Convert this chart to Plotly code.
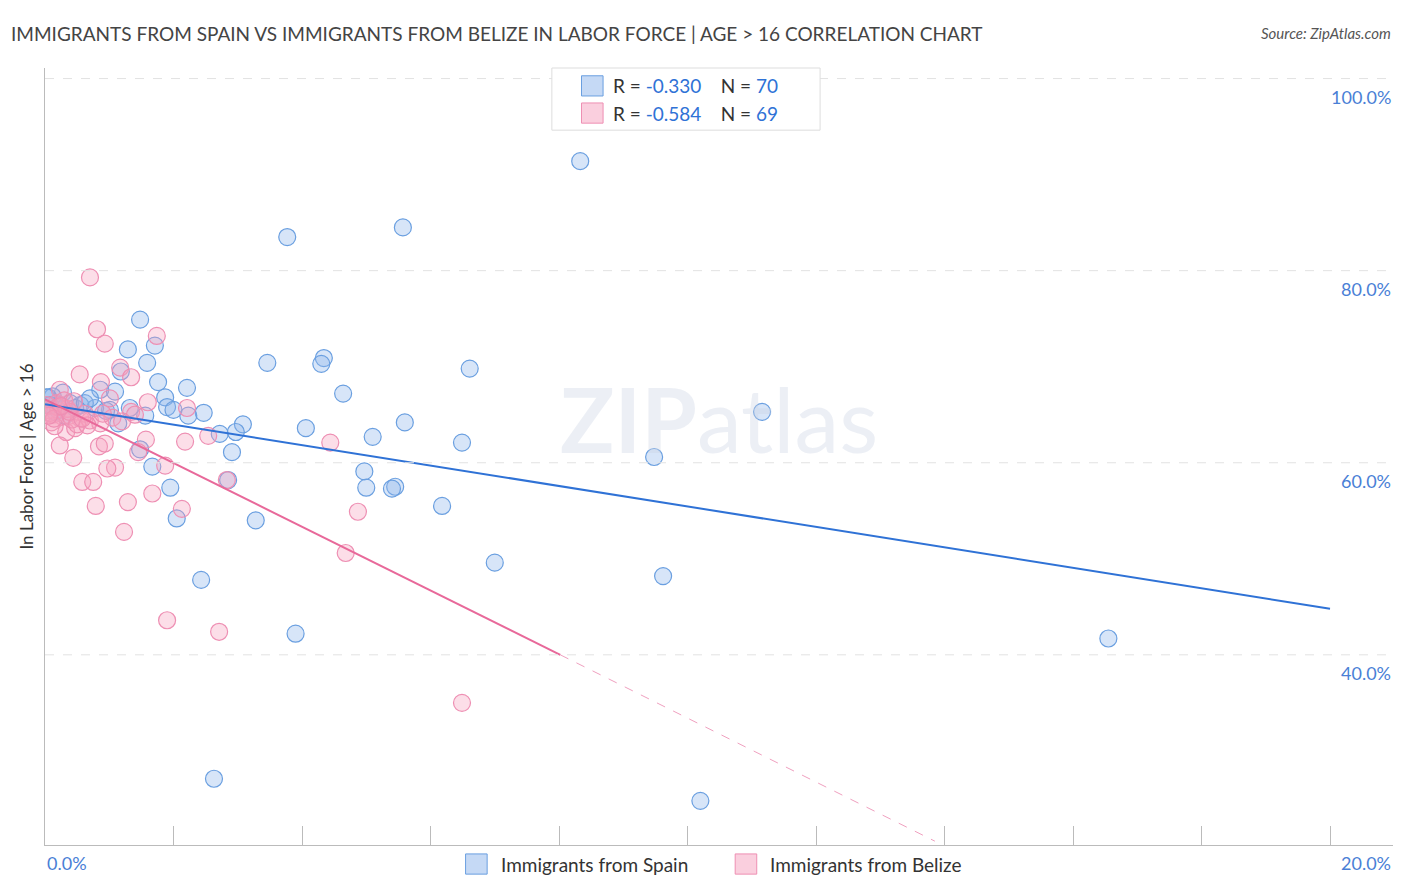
import plotly.graph_objects as go

spain_x = [8.33, 3.77, 5.57, 1.48, 1.71, 1.29, 1.59, 1.18, 3.46, 4.34, 4.30, 6.61, 1.76, 2.21, 0.86, 1.09,
           4.64, 0.28, 0.12, 0.02, 1.87, 1.90, 2.00, 2.47, 2.23, 11.16, 1.56, 1.32, 1.01, 0.78, 0.55, 0.39,
           0.20, 0.08, 3.08, 2.97, 2.72, 1.14, 4.06, 5.60, 5.10, 6.49, 2.91, 1.48, 1.67, 9.48, 4.97, 5.00,
           5.45, 5.40, 2.85, 1.95, 6.18, 2.05, 3.28, 7.00, 9.62, 2.43, 3.90, 16.55, 2.63, 10.20, 0.05, 0.16,
           0.23, 0.31, 0.47, 0.62, 0.70, 0.95]
spain_y = [91.4, 83.5, 84.5, 74.9, 72.2, 71.8, 70.4, 69.5, 70.4, 70.9, 70.3, 69.8, 68.4, 67.8, 67.6, 67.4,
           67.2, 67.3, 66.9, 66.8, 66.8, 65.8, 65.5, 65.2, 64.9, 65.3, 64.9, 65.7, 65.5, 65.7, 66.0, 66.2,
           65.5, 66.0, 64.0, 63.2, 63.0, 64.1, 63.6, 64.2, 62.7, 62.1, 61.1, 61.4, 59.6, 60.6, 59.1, 57.4,
           57.5, 57.3, 58.2, 57.4, 55.5, 54.2, 54.0, 49.6, 48.2, 47.8, 42.2, 41.7, 27.1, 24.8, 66.8, 65.3,
           66.0, 64.9, 65.7, 66.2, 66.7, 65.4]
belize_x = [0.70, 0.81, 1.74, 0.93, 1.17, 0.54, 1.34, 0.87, 0.23, 1.01, 1.60, 2.21, 1.34, 0.39, 0.55, 0.70,
            0.86, 0.33, 0.47, 1.57, 2.54, 2.18, 4.44, 0.23, 0.44, 0.84, 0.93, 1.45, 1.09, 0.97, 1.87, 0.58,
            0.75, 2.83, 1.29, 0.79, 1.67, 2.13, 4.87, 1.23, 4.68, 1.90, 2.71, 6.49, 0.05, 0.12, 0.18, 0.27,
            0.10, 0.35, 0.62, 0.03, 0.15, 0.42, 1.40, 0.20, 0.08, 0.50, 0.30, 0.66, 1.05, 0.14, 0.38, 0.25,
            1.20, 0.06, 0.90, 0.45, 0.58]
belize_y = [79.3, 73.9, 73.2, 72.4, 69.9, 69.2, 68.9, 68.4, 67.6, 66.7, 66.3, 65.7, 65.3, 64.9, 64.6, 64.4,
            64.1, 63.2, 63.6, 62.4, 62.8, 62.2, 62.1, 61.8, 60.5, 61.7, 62.0, 61.1, 59.5, 59.4, 59.7, 58.0,
            58.0, 58.2, 55.9, 55.5, 56.8, 55.2, 54.9, 52.8, 50.6, 43.6, 42.4, 35.0, 65.5, 65.0, 66.2, 64.8,
            64.2, 65.6, 65.1, 66.0, 63.8, 64.5, 65.0, 65.8, 65.2, 64.0, 66.5, 63.9, 64.7, 64.6, 65.3, 65.9,
            64.3, 64.9, 65.1, 66.4, 64.6]

blue_line_x = [0, 20]
blue_line_y = [66.1, 44.8]
pink_solid_x = [0, 8.02]
pink_solid_y = [66.6, 40.0]
pink_dash_x = [8.02, 13.85]
pink_dash_y = [40.0, 20.6]

BLUE = "#2f72d6"
PINK = "#e8699a"
TICKBLUE = "#4a7fd6"

fig = go.Figure()
fig.add_trace(go.Scatter(x=spain_x, y=spain_y, mode="markers",
                         marker=dict(size=17, color="rgba(140,180,235,0.35)", line=dict(color="#6a9fe0", width=1.2))))
fig.add_trace(go.Scatter(x=belize_x, y=belize_y, mode="markers",
                         marker=dict(size=17, color="rgba(245,160,190,0.35)", line=dict(color="#ee8fb3", width=1.2))))
fig.add_trace(go.Scatter(x=blue_line_x, y=blue_line_y, mode="lines", line=dict(color=BLUE, width=2)))
fig.add_trace(go.Scatter(x=pink_solid_x, y=pink_solid_y, mode="lines", line=dict(color=PINK, width=2)))
fig.add_trace(go.Scatter(x=pink_dash_x, y=pink_dash_y, mode="lines", line=dict(color="#f0a0bf", width=1, dash="dash")))

for v in [40, 60, 80, 100]:
    fig.add_hline(y=v, line=dict(color="#e2e2e2", width=1, dash="dash"))
    fig.add_annotation(x=1, xref="paper", y=v, yshift=-18, yanchor="middle", text=f"{v:.1f}%", showarrow=False,
                       xanchor="right", font=dict(color=TICKBLUE, size=18))

fig.update_layout(
    width=1398, height=884, plot_bgcolor="white", paper_bgcolor="white", showlegend=False,
    margin=dict(l=37, r=13, t=60, b=47),
    font=dict(family="Lato, Open Sans, sans-serif", color="#333"),
    xaxis=dict(range=[0, 20.98], showgrid=False, zeroline=False, showline=True, linecolor="#bbb",
               tickvals=[0, 2, 4, 6, 8, 10, 12, 14, 16, 18, 20], ticks="inside", ticklen=19,
               tickcolor="#bbb", showticklabels=False),
    yaxis=dict(range=[20.2, 101.1], showgrid=False, zeroline=False, showline=True, linecolor="#bbb",
               showticklabels=False, title=dict(text="In Labor Force | Age > 16", font=dict(size=17), standoff=6)),
)

fig.add_annotation(x=0, xref="paper", y=1.0, yref="paper", yshift=35, yanchor="middle",
                   text="IMMIGRANTS FROM SPAIN VS IMMIGRANTS FROM BELIZE IN LABOR FORCE | AGE > 16 CORRELATION CHART",
                   showarrow=False, xanchor="left", xshift=-36, font=dict(size=19, color="#444"))
fig.add_annotation(x=1, xref="paper", y=1.0, yref="paper", yshift=35, yanchor="middle", text="<i>Source: ZipAtlas.com</i>",
                   showarrow=False, xanchor="right", font=dict(size=15, color="#555"))
fig.add_annotation(x=0, xref="paper", y=0, yref="paper", yshift=-18, yanchor="middle", text="0.0%", showarrow=False,
                   xanchor="left", font=dict(color=TICKBLUE, size=18))
fig.add_annotation(x=1, xref="paper", y=0, yref="paper", yshift=-18, yanchor="middle", text="20.0%", showarrow=False,
                   xanchor="right", font=dict(color=TICKBLUE, size=18))
fig.add_annotation(x=0.5, xref="paper", y=0.55, yref="paper", text="<b>ZIP</b>atlas", showarrow=False,
                   font=dict(size=90, color="rgba(200,210,225,0.35)"))

# top legend box
fig.add_shape(type="rect", xref="paper", yref="paper", x0=0.376, x1=0.575, y0=0.92, y1=1.0,
              line=dict(color="#ddd", width=1), fillcolor="white")
for i, (r, n, fc, lc) in enumerate([("-0.330", "70", "rgba(140,180,235,0.5)", "#6a9fe0"),
                                     ("-0.584", "69", "rgba(245,160,190,0.5)", "#ee8fb3")]):
    yc = 0.977 - i * 0.035
    fig.add_shape(type="rect", xref="paper", yref="paper", x0=0.398, x1=0.414, y0=yc - 0.013, y1=yc + 0.013,
                  fillcolor=fc, line=dict(color=lc, width=1))
    fig.add_annotation(x=0.42, xref="paper", y=yc, yref="paper", xanchor="left", yanchor="middle", showarrow=False,
                       text=f"R = <span style='color:{BLUE}'>{r}</span>    N = <span style='color:{BLUE}'>{n}</span>",
                       font=dict(size=19, color="#333"))

# bottom legend
for x0, label, fc, lc in [(0.312, "Immigrants from Spain", "rgba(140,180,235,0.5)", "#6a9fe0"),
                          (0.512, "Immigrants from Belize", "rgba(245,160,190,0.5)", "#ee8fb3")]:
    fig.add_shape(type="rect", xref="paper", yref="paper", x0=x0, x1=x0 + 0.016, y0=-0.0375, y1=-0.0115,
                  fillcolor=fc, line=dict(color=lc, width=1))
    fig.add_annotation(x=x0 + 0.0245, xref="paper", y=-0.0245, yref="paper", xanchor="left", yanchor="middle",
                       showarrow=False, text=label, font=dict(size=19, color="#333"))

fig.write_html("out.html")
